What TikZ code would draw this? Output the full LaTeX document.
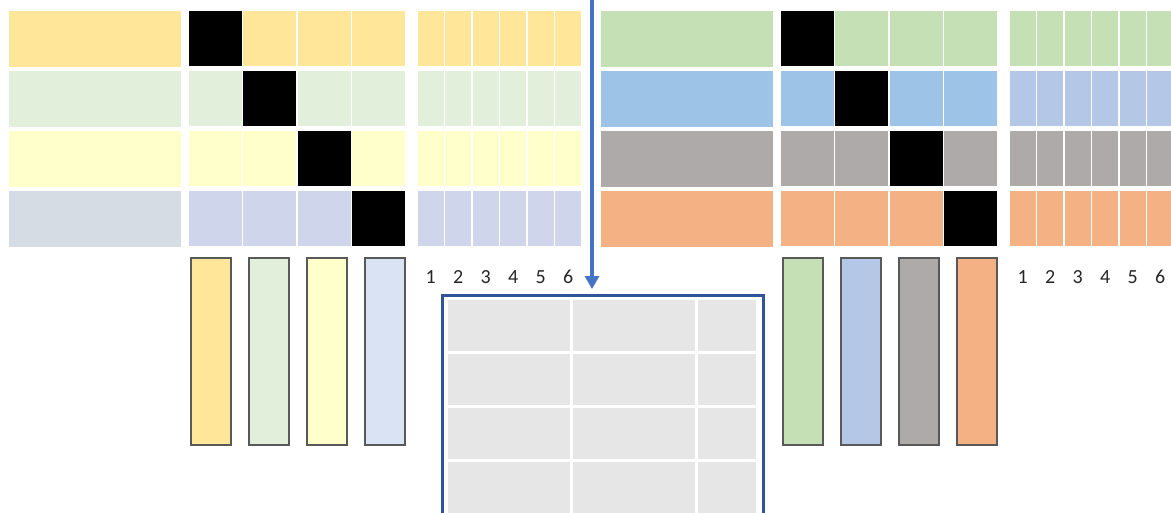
\documentclass[tikz,border=0pt]{standalone}
\usepackage{fontspec}
\setmainfont{Carlito}
\usetikzlibrary{positioning, arrows.meta}

% row colours, left panel
\definecolor{llab1}{HTML}{FFE699}\definecolor{llab2}{HTML}{E2EFDA}
\definecolor{llab3}{HTML}{FFFFCC}\definecolor{llab4}{HTML}{D6DCE4}
\definecolor{lmat1}{HTML}{FFE699}\definecolor{lmat2}{HTML}{E2EFDA}
\definecolor{lmat3}{HTML}{FFFFCC}\definecolor{lmat4}{HTML}{CFD5EA}
\definecolor{lbar1}{HTML}{FFE699}\definecolor{lbar2}{HTML}{E2EFDA}
\definecolor{lbar3}{HTML}{FFFFCC}\definecolor{lbar4}{HTML}{DAE3F3}
% row colours, right panel
\definecolor{rlab1}{HTML}{C5E0B4}\definecolor{rlab2}{HTML}{9DC3E6}
\definecolor{rlab3}{HTML}{AEAAAA}\definecolor{rlab4}{HTML}{F4B183}
\definecolor{rmat1}{HTML}{C5E0B4}\definecolor{rmat2}{HTML}{9DC3E6}
\definecolor{rmat3}{HTML}{AEAAAA}\definecolor{rmat4}{HTML}{F4B183}
\definecolor{rbar1}{HTML}{C5E0B4}\definecolor{rbar2}{HTML}{B4C7E7}
\definecolor{rbar3}{HTML}{AEAAAA}\definecolor{rbar4}{HTML}{F4B183}
\definecolor{arrowblue}{HTML}{4472C4}
\definecolor{frameblue}{HTML}{2F5597}
\definecolor{tablegrey}{HTML}{E7E6E6}

\begin{document}
\begin{tikzpicture}[
    x=1pt, y=-1pt,
    band/.style={draw=white, line width=1pt, minimum width=173pt, minimum height=57pt,
                 inner sep=0pt, outer sep=0pt, anchor=north west},
    cell/.style={draw=white, line width=1.2pt, minimum width=54.5pt, minimum height=57pt,
                 inner sep=0pt, outer sep=0pt, anchor=north west},
    slim/.style={cell, minimum width=27.5pt},
    bar/.style={draw=black!65, line width=1.6pt, minimum width=40pt, minimum height=187pt,
                inner sep=0pt, anchor=north west},
    numlab/.style={inner sep=0pt, text=black!85, font=\fontsize{20}{24}\selectfont},
    gridcell/.style={draw=white, line width=3pt, fill=tablegrey, minimum height=54pt,
                     inner sep=0pt, outer sep=0pt, anchor=north west},
    frame/.style={draw=frameblue, line width=2.8pt, minimum width=321pt, minimum height=260pt,
                  inner sep=0pt, anchor=north west}
]
    \useasboundingbox (0,0) rectangle (1171,512);
    \clip (0,0) rectangle (1171,512);

    \foreach \p/\dx in {l/0, r/592} {
        \foreach \r in {1,...,4} {
            \pgfmathsetmacro\ty{10+60*(\r-1)}
            \node[band, fill=\p lab\r] (\p-lab-\r) at (8+\dx, \ty) {};
            \foreach \c in {1,...,4} {
                \ifnum\c=\r \def\cellcol{black}\else \edef\cellcol{\p mat\r}\fi
                \node[cell, fill=\cellcol] (\p-mat-\r-\c) at (188+\dx+54.5*\c-54.5, \ty) {};
            }
            \foreach \c in {1,...,6}
                \node[slim, fill=\p mat\r] (\p-blk-\r-\c) at (417+\dx+27.5*\c-27.5, \ty) {};
        }
        \foreach \c in {1,...,4}
            \node[bar, fill=\p bar\c] (\p-bar-\c) at (190+\dx+58*\c-58, 257) {};
        \foreach \c in {1,...,6}
            \node[numlab, below=23pt of \p-blk-4-\c] (\p-num-\c) {\c};
    }
    % right block, row 2 is lighter than its label
    \foreach \c in {1,...,6}
        \node[slim, fill=rbar2] (r-blk-2-\c) at (1009+27.5*\c-27.5, 70) {};

    % result table
    \node[frame] (outbox) at (441,294) {};
    \foreach \r in {1,...,4} {
        \pgfmathsetmacro\ty{298.5+54*(\r-1)}
        \node[gridcell, minimum width=125.5pt] (tab-\r-1) at (446, \ty) {};
        \node[gridcell, minimum width=125pt]   (tab-\r-2) at (571.5, \ty) {};
        \node[gridcell, minimum width=61pt]    (tab-\r-3) at (696.5, \ty) {};
    }

    \coordinate (src) at (592,0);
    \draw[-{Triangle[width=14pt, length=13pt]}, arrowblue, line width=4pt, shorten >=5pt]
        (src) -- (src |- outbox.north);
\end{tikzpicture}
\end{document}
